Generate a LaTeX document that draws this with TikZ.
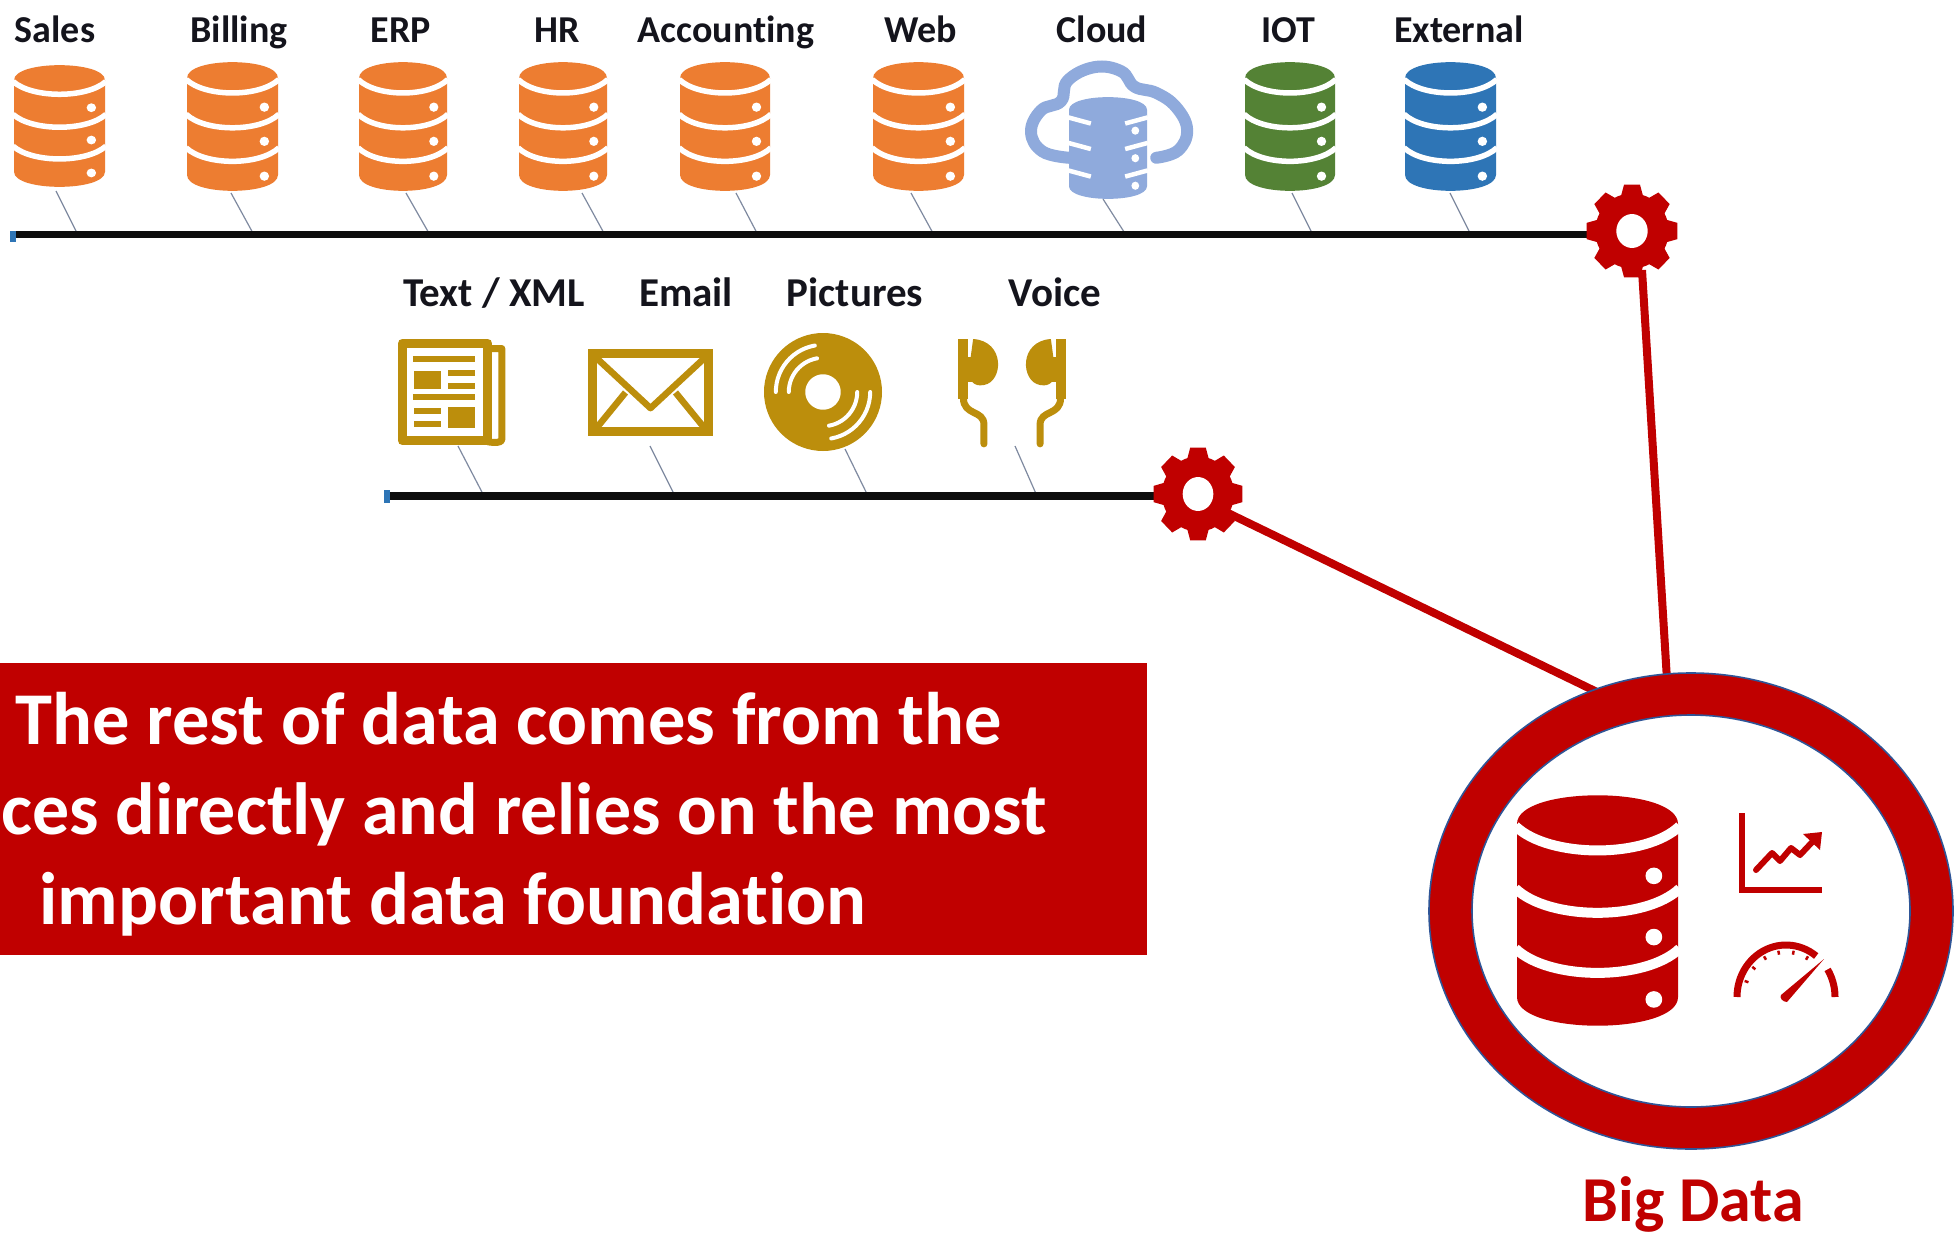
\documentclass[tikz,border=0pt]{standalone}
\usepackage{fontspec}
\setmainfont[Ligatures=NoCommon]{Carlito}
\definecolor{dborange}{HTML}{ED7D31}
\definecolor{dbgreen}{HTML}{548235}
\definecolor{dbblue}{HTML}{2E75B6}
\definecolor{cloudblue}{HTML}{8FAADC}
\definecolor{gold}{HTML}{BC8E0C}
\definecolor{bigred}{HTML}{C00000}
\definecolor{ringedge}{HTML}{2F5597}
\definecolor{tickgrey}{HTML}{7F8AA0}
\definecolor{label}{HTML}{14141C}
\tikzset{
  srclabel/.style={font=\fontsize{38}{38}\selectfont\bfseries,text=label,inner sep=0pt,anchor=base},
  srclabelb/.style={font=\fontsize{41}{41}\selectfont\bfseries,text=label,inner sep=0pt,anchor=base},
  boxtext/.style={font=\fontsize{74.5}{74.5}\selectfont\bfseries,text=white,inner sep=0pt},
  feed/.style={draw=tickgrey,line width=1.2pt},
  bus/.style={draw=black!95,line width=7.5pt},
  redlink/.style={draw=bigred,line width=8pt},
  band/.style={draw=white,line width=#1},
  goldline/.style={draw=gold,line width=#1},
}
% #1 x, #2 y, #3 w, #4 h, #5 colour, #6 band width
\newcommand{\dbicon}[6]{%
  \begin{scope}[shift={(#1,#2)},x=#3pt,y=-#4pt]
    \fill[#5] (0,.125) -- (0,.875) .. controls (0,1.04) and (1,1.04) .. (1,.875) -- (1,.125)
       .. controls (1,-.04) and (0,-.04) .. (0,.125) -- cycle;
    \foreach \s in {.135,.405,.665}{
      \draw[band=#6] (-.01,\s) .. controls (.2,\s+.14) and (.8,\s+.14) .. (1.01,\s);
    }
    \foreach \d in {.35,.615,.885}{
      \fill[white] (.85,\d) ellipse [x radius=.052,y radius=.036];
    }
  \end{scope}}
% #1 x, #2 y, #3 half width, #4 half height
\newcommand{\gearicon}[4]{%
  \begin{scope}[shift={(#1,#2)},x=#3pt,y=-#4pt]
    \fill[bigred] plot[domain=0:360,samples=49] ({.8*cos(\x)},{.8*sin(\x)}) -- cycle;
    \foreach \a in {0,45,...,315}{
      \fill[bigred] ({.74*cos(\a-20)},{.74*sin(\a-20)}) -- ({cos(\a-10)},{sin(\a-10)})
        -- ({cos(\a+10)},{sin(\a+10)}) -- ({.74*cos(\a+20)},{.74*sin(\a+20)}) -- cycle;
    }
    \fill[white] plot[domain=0:360,samples=49] ({.34*cos(\x)},{.36*sin(\x)}) -- cycle;
  \end{scope}}
\begin{document}
\begin{tikzpicture}[x=1pt,y=-1pt]
\useasboundingbox (0,0) rectangle (1955,1236);
\fill[white] (0,0) rectangle (1955,1236);

% labels, row one
\node[srclabel] (lSales) at (55,43) {Sales};
\node[srclabel] (lBilling) at (239,43) {Billing};
\node[srclabel] (lERP) at (401,43) {ERP};
\node[srclabel] (lHR) at (557,43) {HR};
\node[srclabel] (lAcc) at (726,43) {Accounting};
\node[srclabel] (lWeb) at (921,43) {Web};
\node[srclabel] (lCloud) at (1102,43) {Cloud};
\node[srclabel] (lIOT) at (1288,43) {IOT};
\node[srclabel] (lExt) at (1459,43) {External};

% labels, row two
\node[srclabelb] (lText) at (494,306) {Text / XML};
\node[srclabelb] (lEmail) at (686,306) {Email};
\node[srclabelb] (lPict) at (855,306) {Pictures};
\node[srclabelb] (lVoice) at (1055,306) {Voice};

% end points
\coordinate (busAstart) at (10,234.5);
\coordinate (gearA) at (1632,231);
\coordinate (busAend) at (1600,234.5);
\coordinate (busBstart) at (384,496);
\coordinate (gearB) at (1198,494);
\coordinate (busBend) at (1165,496);
\coordinate (linkAtop) at (1642,270);
\coordinate (linkAbot) at (1667,680);
\coordinate (linkBtop) at (1228,513);
\coordinate (linkBbot) at (1597,692);

% feeders row one
\foreach \n/\ax/\ay/\bx in {s/56/191/78,b/231/193/254,e/406/193/430,h/582/193/605,a/736/193/758,w/911/193/934,c/1103/199/1126,i/1292/193/1313,x/1450/193/1471}{
  \coordinate (f\n a) at (\ax,\ay);
  \coordinate (f\n b) at (\bx,235);
  \draw[feed] (f\n a) -- (f\n b);
}
% feeders row two
\foreach \n/\ax/\ay/\bx in {t/458/446/484,m/650/446/675,p/845/449/868,v/1015/446/1037}{
  \coordinate (f\n a) at (\ax,\ay);
  \coordinate (f\n b) at (\bx,496);
  \draw[feed] (f\n a) -- (f\n b);
}

% buses
\draw[bus] (busAstart) -- (busAend);
\draw[bus] (busBstart) -- (busBend);
\fill[dbblue] (10,231) rectangle (16,242);
\fill[dbblue] (384,490) rectangle (390,503);

% database icons
\dbicon{14}{65}{91}{122}{dborange}{5.5pt}
\dbicon{187}{62}{91}{129}{dborange}{5.5pt}
\dbicon{359}{62}{88}{129}{dborange}{5.5pt}
\dbicon{519}{62}{88}{129}{dborange}{5.5pt}
\dbicon{680}{62}{90}{129}{dborange}{5.5pt}
\dbicon{873}{62}{91}{129}{dborange}{5.5pt}
\dbicon{1245}{62}{90}{129}{dbgreen}{5.5pt}
\dbicon{1405}{62}{91}{129}{dbblue}{5.5pt}

% cloud with its database
\begin{scope}[shift={(1026,62)},x=167pt,y=-103pt]
  \draw[cloudblue,line width=12pt,line cap=round]
    plot[smooth,tension=.7] coordinates {(.26,.93) (.1,.87) (.03,.68) (.09,.47) (.21,.38) (.25,.18) (.41,.05) (.57,.09) (.65,.24) (.78,.3) (.9,.44) (.965,.66) (.91,.86) (.78,.93)};
\end{scope}
\begin{scope}[shift={(1069,97)},x=78pt,y=-102pt]
  \fill[cloudblue] (0,.125) -- (0,.875) .. controls (0,1.04) and (1,1.04) .. (1,.875) -- (1,.125)
     .. controls (1,-.04) and (0,-.04) .. (0,.125) -- cycle;
  \foreach \s in {.2,.45,.72}{
    \draw[band=4.5pt] (-.01,\s) -- (.28,\s+.06);
    \draw[band=4.5pt] (1.01,\s) -- (.72,\s+.06);
  }
  \foreach \d in {.33,.6,.87}{
    \fill[white] (.85,\d) ellipse [x radius=.05,y radius=.04];
  }
\end{scope}

% newspaper
\begin{scope}[shift={(398,339)},x=107pt,y=-106pt]
  \draw[goldline=7pt,line join=round] (.84,.09) -- (.97,.09) -- (.97,.95) .. controls (.97,.98) and (.9,.98) .. (.84,.97);
  \draw[goldline=9pt,line join=round] (.04,.04) rectangle (.84,.96);
  \draw[goldline=6pt] (.14,.19) -- (.72,.19);
  \fill[gold] (.15,.3) rectangle (.4,.47);
  \draw[goldline=6pt] (.47,.32) -- (.72,.32) (.47,.44) -- (.72,.44);
  \draw[goldline=6pt] (.14,.55) -- (.72,.55);
  \draw[goldline=6pt] (.15,.68) -- (.4,.68) (.15,.8) -- (.4,.8);
  \fill[gold] (.47,.64) rectangle (.72,.84);
\end{scope}

% envelope
\begin{scope}[shift={(588,349)},x=125pt,y=-87pt]
  \draw[goldline=9pt] (.035,.05) rectangle (.965,.95);
  \draw[goldline=6.5pt,line join=round] (.05,.08) -- (.5,.68) -- (.95,.08);
  \draw[goldline=6.5pt] (.05,.94) -- (.3,.5) (.95,.94) -- (.7,.5);
\end{scope}

% disc
\begin{scope}[shift={(823,392)},x=59pt,y=-59pt]
  \fill[gold] plot[domain=0:360,samples=73] ({cos(\x)},{sin(\x)}) -- cycle;
  \fill[white] plot[domain=0:360,samples=49] ({.3*cos(\x)},{.3*sin(\x)}) -- cycle;
  \foreach \r in {.58,.8}{
    \draw[white,line width=4pt,line cap=round] plot[domain=100:180,samples=15] ({\r*cos(\x)},{-\r*sin(\x)});
    \draw[white,line width=4pt,line cap=round] plot[domain=-80:0,samples=15] ({\r*cos(\x)},{-\r*sin(\x)});
  }
\end{scope}

% earphones
\begin{scope}[shift={(958,339)},y=-107pt]
  \foreach \m/\k in {0/108pt,108/-108pt}{
    \begin{scope}[shift={(\m pt,0pt)},x=\k]
      \fill[gold] (.0,0) rectangle (.09,.56);
      \fill[gold] (.14,0) .. controls (.44,.02) and (.42,.4) .. (.24,.43) .. controls (.14,.45) and (.1,.38) .. (.1,.3) -- cycle;
      \fill[gold] (.0,.17) rectangle (.22,.4);
      \draw[goldline=7pt,line cap=round] (.05,.55) .. controls (.05,.72) and (.24,.66) .. (.24,.8) -- (.24,.98);
    \end{scope}
  }
\end{scope}

% gears
\gearicon{1632}{231}{46}{47}
\gearicon{1198}{494}{45}{47}

% red links
\draw[redlink] (linkAtop) -- (linkAbot);
\draw[redlink] (linkBtop) -- (linkBbot);

% banner
\fill[bigred] (0,663) rectangle (1147,955);
\node[boxtext,anchor=base] (bannerA) at (509,744) {The rest of data comes from the};
\node[boxtext,anchor=base east,font=\fontsize{73.9}{73.9}\selectfont\bfseries] (bannerB) at (1047,834) {ces directly and relies on the most};
\node[boxtext,anchor=base] (bannerC) at (453,924) {important data foundation};

% big ring
\coordinate (ring) at (1691,911);
\fill[white] (ring) ellipse [x radius=262pt,y radius=238pt];
\path[fill=bigred,draw=ringedge,line width=1.6pt,even odd rule]
  (ring) ellipse [x radius=262pt,y radius=238pt]
  (ring) ellipse [x radius=219pt,y radius=196pt];

\dbicon{1517}{795}{161}{231}{bigred}{10pt}

% chart
\draw[bigred,line width=5.5pt,line join=miter] (1742,813) -- (1742,890) -- (1822,890);
\draw[bigred,line width=6pt,line join=round,line cap=round] (1756,870) -- (1772,853) -- (1780,861) -- (1791,848) -- (1800,855) -- (1816,838);
\fill[bigred] (1822,832) -- (1803,834) -- (1820,850) -- cycle;

% gauge
\begin{scope}[shift={(1786,997)},x=1pt,y=-1pt]
  \draw[bigred,line width=7pt] plot[domain=180:52,samples=30] ({49*cos(\x)},{-52*sin(\x)});
  \draw[bigred,line width=7pt] plot[domain=32:0,samples=12] ({49*cos(\x)},{-52*sin(\x)});
  \foreach \a in {160,140,120,100,80,60}{
    \draw[bigred,line width=2.5pt] ({44*cos(\a)},{-47*sin(\a)}) -- ({40*cos(\a)},{-43*sin(\a)});
  }
  \fill[bigred] (-5,-2) -- (38,-38) -- (1,5) .. controls (-3,5) and (-7,1) .. (-5,-2) -- cycle;
\end{scope}

\node[font=\fontsize{64}{64}\selectfont\bfseries,text=bigred,inner sep=0pt,anchor=base] (bigdata) at (1693,1221) {Big Data};
\end{tikzpicture}
\end{document}
